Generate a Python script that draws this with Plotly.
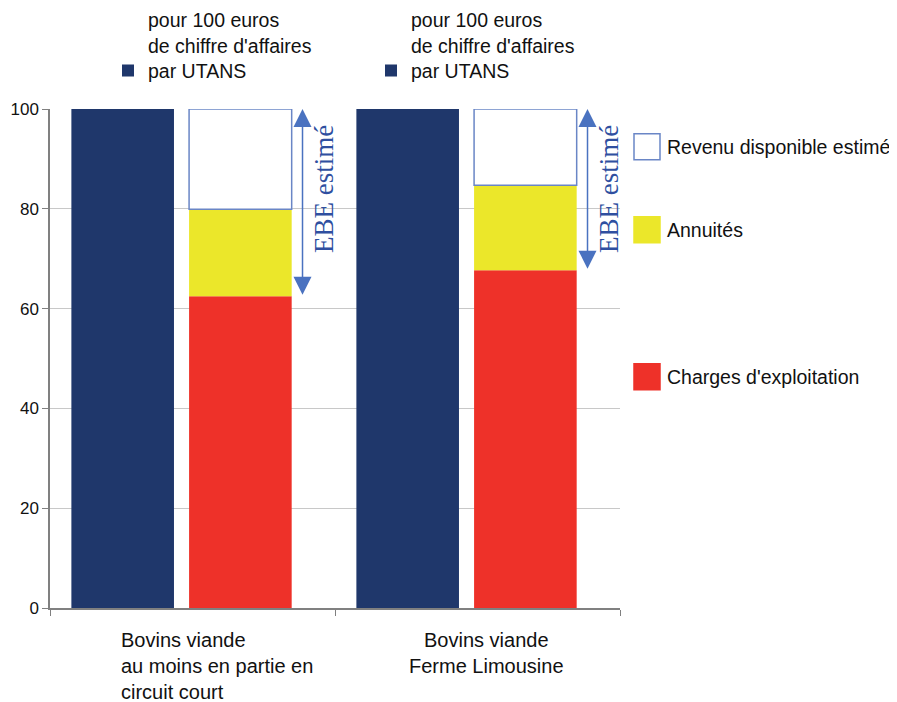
import plotly.graph_objects as go

# ---- data ----
categories = ["Bovins viande<br>au moins en partie en<br>circuit court",
              "Bovins viande<br>Ferme Limousine"]
utans_name = "pour 100 euros<br>de chiffre d'affaires<br>par UTANS"
utans = [100, 100]
charges = [62.5, 67.7]
annuites = [17.4, 17.0]
revenu = [20.1, 15.3]
series_names = ["Revenu disponible estimé", "Annuités", "Charges d'exploitation"]
y_ticks = [0, 20, 40, 60, 80, 100]

NAVY = "#1f376b"
RED = "#ee3129"
YELLOW = "#ebe72a"
OUTLINE = "#6a86c6"
ARROW = "#4a72c0"
TEXTBLUE = "#2f4fa0"
FONT = "Liberation Sans, Arial, sans-serif"

fig = go.Figure()

# dark bars (one series per category, each with its own legend)
legend_ids = ["legend", "legend2"]
for i in range(2):
    fig.add_trace(go.Bar(
        x=[categories[i]], y=[utans[i]], name=utans_name,
        marker=dict(color=NAVY, line=dict(width=0)),
        offset=-0.425, width=0.36, showlegend=True, legend=legend_ids[i]))

base_y = [0, 0]
stack = [(charges, RED, series_names[2], 0),
         (annuites, YELLOW, series_names[1], 0),
         (revenu, "white", series_names[0], 1.5)]
for vals, col, nm, lw in stack:
    fig.add_trace(go.Bar(
        x=categories, y=vals, base=list(base_y), name=nm,
        marker=dict(color=col, line=dict(color=OUTLINE, width=lw)),
        offset=-0.012, width=0.36, showlegend=False))
    base_y = [b + v for b, v in zip(base_y, vals)]

annotations = []
# EBE arrows (from top of stack down to top of charges)
for i in range(2):
    top = charges[i] + annuites[i] + revenu[i]
    annotations.append(dict(
        x=i + 0.386, y=top, ax=i + 0.386, ay=charges[i],
        xref="x", yref="y", axref="x", ayref="y",
        text="", showarrow=True, arrowhead=2, startarrowhead=2,
        arrowside="end+start", arrowsize=2.4, startarrowsize=2.4,
        arrowwidth=1.5, arrowcolor=ARROW, standoff=0, startstandoff=0))
    annotations.append(dict(
        x=i + 0.462, y=84, xref="x", yref="y", text="EBE estimé",
        textangle=-90, showarrow=False,
        font=dict(family="Liberation Serif, Times New Roman, serif", size=27, color=TEXTBLUE)))

# category labels
annotations.append(dict(x=categories[0], y=0, xref="x", yref="y", text=categories[0],
                        xanchor="left", yanchor="top", align="left", xshift=-74, yshift=-19,
                        showarrow=False, font=dict(family=FONT, size=20, color="#111")))
annotations.append(dict(x=categories[1], y=0, xref="x", yref="y", text=categories[1],
                        xanchor="center", yanchor="top", align="center", xshift=9, yshift=-19,
                        showarrow=False, font=dict(family=FONT, size=20, color="#111")))

# screen coordinates -> paper (plot area spans 50..620 x, 109.3..608.3 y on screen)
def py(p):
    return (608.3 - p) / 499.0
def px(p):
    return (p - 50) / 570.0

shapes = []
leg_items = [(series_names[0], "white", OUTLINE, 147),
             (series_names[1], YELLOW, YELLOW, 230),
             (series_names[2], RED, RED, 377)]
for nm, fill, line, cy in leg_items:
    shapes.append(dict(type="rect", xref="paper", yref="paper",
                       x0=px(634), x1=px(660), y0=py(cy + 13), y1=py(cy - 13),
                       fillcolor=fill, line=dict(color=line, width=1.5)))
    annotations.append(dict(xref="paper", yref="paper", x=px(665), y=py(cy), text=nm,
                            xanchor="left", yanchor="middle", showarrow=False,
                            font=dict(family=FONT, size=19.5, color="#111")))

leg_common = dict(orientation="v", xanchor="left", yanchor="top", valign="bottom",
                  font=dict(family=FONT, size=19.5, color="#111"),
                  bgcolor="rgba(0,0,0,0)", itemclick=False, itemdoubleclick=False)

fig.update_layout(
    width=889, height=694,
    margin=dict(l=42, r=277, t=101.3, b=93.7, autoexpand=False),
    paper_bgcolor="white", plot_bgcolor="white",
    barmode="overlay",
    font=dict(family=FONT, size=17, color="#111"),
    showlegend=True,
    legend=dict(x=px(108), y=py(1), **leg_common),
    legend2=dict(x=px(371), y=py(1), **leg_common),
    xaxis=dict(type="category", categoryorder="array", categoryarray=categories,
               range=[-0.5, 1.5], showticklabels=False,
               ticks="outside", tickson="boundaries", ticklen=6, tickcolor="#808080",
               showline=True, linecolor="#808080", linewidth=1.5,
               showgrid=False, zeroline=False),
    yaxis=dict(range=[0, 100], tickvals=y_ticks, ticks="outside", ticklen=6,
               tickcolor="#808080", showline=True, linecolor="#808080", linewidth=1.5,
               showgrid=True, gridcolor="#c8c8c8", gridwidth=1, zeroline=False,
               tickfont=dict(family=FONT, size=17, color="#111")),
    annotations=annotations,
    shapes=shapes,
)

fig.write_html("out.html")
